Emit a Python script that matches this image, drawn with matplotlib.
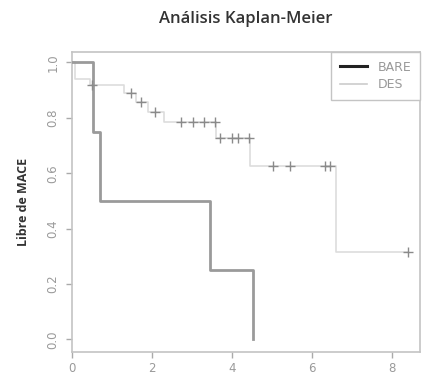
import matplotlib
matplotlib.use("Agg")
import matplotlib.pyplot as plt

# Kaplan-Meier step curves
bare_t = [0, 0.52, 0.70, 3.45, 4.51]
bare_s = [1.0, 0.75, 0.50, 0.25, 0.0]

des_t = [0, 0.08, 0.45, 1.30, 1.60, 1.90, 2.30, 3.60, 4.45, 6.60, 8.39]
des_s = [1.0, 0.94, 0.918, 0.89, 0.857, 0.82, 0.786, 0.729, 0.625, 0.315, 0.315]

cens_t = [0.50, 1.48, 1.73, 2.06, 2.73, 3.02, 3.30, 3.56, 3.69, 4.00, 4.14, 4.42,
          5.02, 5.45, 6.31, 6.44, 8.39]
cens_s = [0.918, 0.89, 0.857, 0.82, 0.786, 0.786, 0.786, 0.786, 0.729, 0.729, 0.729, 0.729,
          0.625, 0.625, 0.625, 0.625, 0.315]

xticks = [0, 2, 4, 6, 8]
yticks = [0.0, 0.2, 0.4, 0.6, 0.8, 1.0]

fig = plt.figure(figsize=(4.22, 3.82), dpi=100)
ax = fig.add_axes([0.171, 0.079, 0.824, 0.785])

ax.step(bare_t, bare_s, where="post", color="#9a9a9a", lw=2.0, zorder=3)
ax.step(des_t, des_s, where="post", color="#dddddd", lw=1.2, zorder=2)
ax.plot(cens_t, cens_s, ls="none", marker="+", ms=7, mew=1.0, color="#8a8a8a", zorder=4)

ax.set_xlim(0, 8.69)
ax.set_ylim(-0.045, 1.038)
ax.set_xticks(xticks)
ax.set_xticklabels([str(v) for v in xticks])
ax.set_yticks(yticks)
ax.set_yticklabels([f"{v:.1f}" for v in yticks], rotation=90, va="center")
ax.tick_params(colors="#aaaaaa", labelcolor="#9a9a9a", labelsize=8.5, length=4, width=1)
ax.tick_params(axis="y", pad=5)
for s in ax.spines.values():
    s.set_color("#c4c4c4")
    s.set_linewidth(1.2)

ax.set_title("Análisis Kaplan-Meier", fontsize=12, fontweight="semibold", color="#333333",
             family=["Open Sans", "DejaVu Sans"], pad=21)
ax.set_ylabel("Libre de MACE", fontsize=9, fontweight="bold", color="#333333",
              family=["Open Sans", "DejaVu Sans"], labelpad=12)

h1, = ax.plot([], [], color="#222222", lw=2.2)
h2, = ax.plot([], [], color="#cccccc", lw=1.2)
leg = ax.legend([h1, h2], ["BARE", "DES"], loc="upper right", borderaxespad=0,
                fancybox=False, framealpha=1, edgecolor="#c4c4c4", fontsize=9,
                handlelength=2.2, labelspacing=0.35, borderpad=0.7)
for t in leg.get_texts():
    t.set_color("#999999")

fig.savefig("out.png", dpi=100)
